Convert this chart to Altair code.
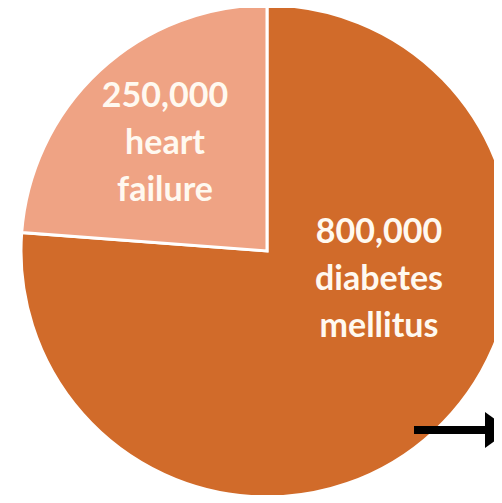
import altair as alt
import pandas as pd

categories = ["diabetes mellitus", "heart failure"]
values = [800000, 250000]
label_lines = [["800,000", "diabetes", "mellitus"], ["250,000", "heart", "failure"]]
colors = ["#D16B2A", "#EFA384"]

df = pd.DataFrame({
    "order": [0, 1],
    "category": categories,
    "value": values,
    "label": label_lines,
})

CX, CY, R = 259, 243, 246

base = alt.Chart(df).encode(
    theta=alt.Theta("value:Q", stack=True),
    order=alt.Order("order:Q"),
)

pie = base.mark_arc(radius=R, stroke="white", strokeWidth=3).encode(
    color=alt.Color("category:N", scale=alt.Scale(domain=categories, range=colors), legend=None),
    x=alt.value(CX),
    y=alt.value(CY),
)

text_style = dict(font="Lato", fontWeight="bold", fontSize=34, color="#FFF9F0",
                  lineHeight=47, align="center", baseline="middle")

hf_text = alt.Chart(df).transform_filter(alt.datum.category == "heart failure").mark_text(
    dx=-102, dy=-154, **text_style
).encode(text="label", x=alt.value(CX), y=alt.value(CY))

dm_text = alt.Chart(df).transform_filter(alt.datum.category == "diabetes mellitus").mark_text(
    dx=112, dy=-18, **text_style
).encode(text="label", x=alt.value(CX), y=alt.value(CY))

arrow_shaft = alt.Chart(df).transform_filter(alt.datum.order == 0).mark_rule(
    color="black", strokeWidth=8
).encode(x=alt.value(406), x2=alt.value(480), y=alt.value(422))

arrow_head = alt.Chart(df).transform_filter(alt.datum.order == 0).mark_point(
    shape="M0,-1L1.4,0L0,1Z", size=1300, filled=True, color="black", opacity=1
).encode(x=alt.value(477), y=alt.value(422))

chart = alt.layer(pie, hf_text, dm_text, arrow_shaft, arrow_head).properties(
    width=486, height=487, padding=0, autosize=alt.AutoSizeParams(type="none")
).configure_view(stroke=None)

chart.save("out.html", embed_options={"renderer": "svg", "actions": False})
